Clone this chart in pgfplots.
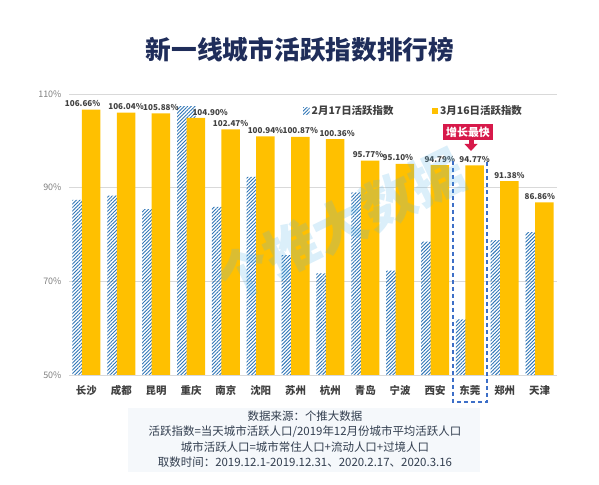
\documentclass[border=0pt]{standalone}
\usepackage{pgfplots}
\pgfplotsset{compat=1.18}
\usepackage{pgfplotstable}
\usepackage{fontspec}
\setmainfont{Noto Sans CJK SC}
\usetikzlibrary{patterns.meta}
\definecolor{gold}{HTML}{FFC000}
\definecolor{hatch}{HTML}{2E75B6}
\definecolor{titleblue}{HTML}{1F2D5A}
\definecolor{labgray}{HTML}{404040}
\definecolor{tickgray}{HTML}{7F7F7F}
\definecolor{gridgray}{HTML}{D9D9D9}
\definecolor{callred}{HTML}{D7194A}
\definecolor{boxblue}{HTML}{3D6FC8}
\definecolor{foot}{HTML}{333F50}
\definecolor{wm}{HTML}{5AB4E6}
\definecolor{footbg}{HTML}{F5F8FB}

\pgfplotstableread{
x feb mar dx
0 87.4 106.66 -8.5
1 88.3 106.04 0
2 85.4 105.88 0
3 107.4 104.90 14.5
4 85.9 102.47 0
5 92.3 100.94 0
6 75.6 100.87 0
7 71.7 100.36 2
8 89.0 95.77 -2
9 72.3 95.10 -7
10 78.5 94.79 0
11 61.9 94.77 0
12 78.8 91.38 0
13 80.5 86.86 -4.5
}\data

\begin{document}
\begin{tikzpicture}[x=1bp,y=1bp]
\path[use as bounding box] (0,0) rectangle (599,485);
% footer background
\fill[footbg] (128,13) rectangle (480,77);
% title
\node[text=titleblue, font=\bfseries\fontsize{25.8}{28}\selectfont] at (300,435) {新一线城市活跃指数排行榜};
\begin{axis}[
  at={(69bp,110bp)}, anchor=south west,
  scale only axis, width=488bp, height=281bp,
  xmin=-0.5, xmax=13.5, ymin=50, ymax=110,
  axis line style={draw=none},
  major tick length=0pt,
  ymajorgrids, grid style={gridgray, line width=0.6bp},
  ytick={50,70,90,110},
  /pgf/number format/assume math mode=true,
  yticklabel={\pgfmathprintnumber{\tick}\%},
  yticklabel style={text=tickgray, font=\fontsize{9}{10}\selectfont, xshift=-4bp},
  xtick={0,...,13},
  xticklabels={长沙,成都,昆明,重庆,南京,沈阳,苏州,杭州,青岛,宁波,西安,东莞,郑州,天津},
  xticklabel style={text=labgray, font=\bfseries\fontsize{10.5}{12}\selectfont, yshift=-7bp},
  ybar, bar width=18.5bp,
  legend style={at={(axis description cs:0.4795,0.9395)}, anchor=west, draw=none, fill=none,
    font=\bfseries\fontsize{10.5}{12}\selectfont, text=labgray, legend columns=2,
    /tikz/every even column/.append style={column sep=36bp}, inner sep=0pt},
  legend image code/.code={\fill[#1] (0bp,-3.2bp) rectangle (6.5bp,3.3bp);},
]
\addplot[draw=none, pattern={Lines[angle=45,distance=2.5bp,line width=0.9bp]}, pattern color=hatch, bar shift=-4.75bp]
  table[x=x,y=feb] {\data};
\addlegendentry{2月17日活跃指数}
\addplot[draw=none, fill=gold, bar shift=4.75bp,
  point meta=explicit symbolic,
  nodes near coords={\pgfplotspointmeta\%},
  visualization depends on={\thisrow{dx} \as \dx},
  every node near coord/.append style={text=labgray, font=\bfseries\fontsize{8.1}{10}\selectfont, xshift=\dx*1bp, inner sep=2.5bp}]
  table[x=x,y=mar,meta=mar] {\data};
\addlegendentry{3月16日活跃指数}
\end{axis}
% highlight box for 东莞 (open at the top, as in the reference)
\draw[draw=boxblue, line width=1.2bp, dash pattern=on 4bp off 3bp] (453,324) -- (453,83) -- (487,83) -- (487,324);
% callout
\node[fill=callred, text=white, font=\bfseries\fontsize{11}{12}\selectfont, minimum width=50bp, minimum height=16bp, inner sep=0pt] at (468,353) {增长最快};
\fill[callred] (468.5,345.5) rectangle (473.5,340.5);
\fill[callred] (464.5,341) -- (477.5,341) -- (471,334) -- cycle;
% watermark
\node[rotate=26, text=wm, opacity=0.22, font=\bfseries\fontsize{54}{56}\selectfont] at (340,260) {个推大数据};
% footer
\begin{scope}[every node/.style={text=foot, font=\fontsize{11.5}{13}\selectfont, inner sep=0pt}]
\node at (305,69) {数据来源：个推大数据};
\node at (305,53) {活跃指数=当天城市活跃人口/2019年12月份城市平均活跃人口};
\node at (305,38) {城市活跃人口=城市常住人口+流动人口+过境人口};
\node at (305,23) {取数时间：2019.12.1-2019.12.31、2020.2.17、2020.3.16};
\end{scope}
\end{tikzpicture}
\end{document}
